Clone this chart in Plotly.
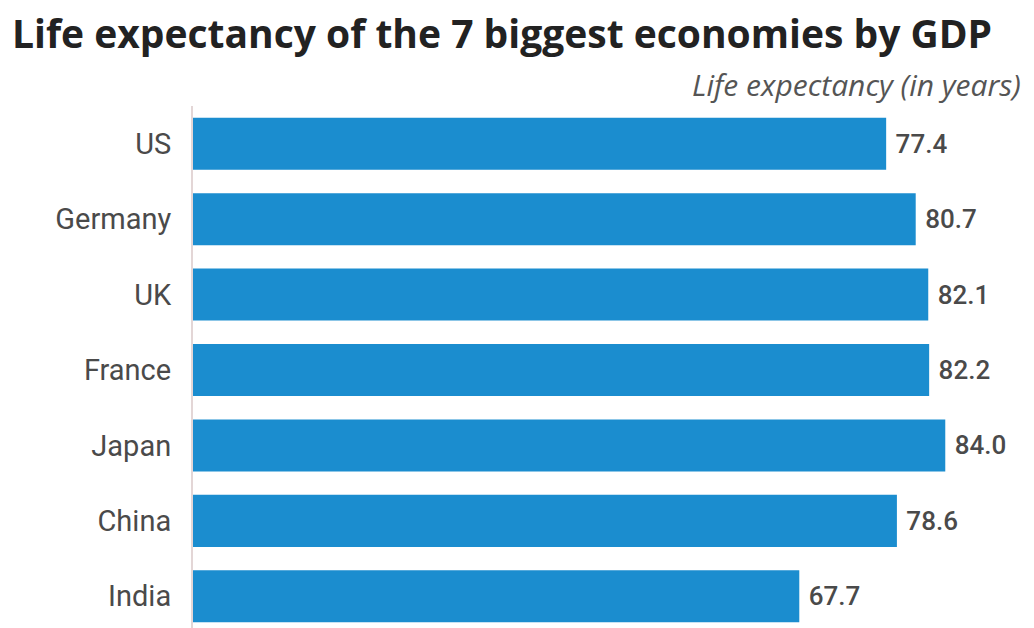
import plotly.graph_objects as go

countries = ["US", "Germany", "UK", "France", "Japan", "China", "India"]
life_expectancy = [77.4, 80.7, 82.1, 82.2, 84.0, 78.6, 67.7]

BAR_BLUE = "#1b8dcf"
TEXT_GREY = "#4a4a4a"

fig = go.Figure(
    go.Bar(
        x=life_expectancy,
        y=countries,
        orientation="h",
        marker=dict(color=BAR_BLUE, line=dict(width=0)),
        text=[f" {v:.1f}" for v in life_expectancy],
        textposition="outside",
        cliponaxis=False,
        textfont=dict(family="Roboto", size=26, color=TEXT_GREY, weight=500),
        hoverinfo="skip",
    )
)

fig.update_layout(
    width=1034,
    height=628,
    margin=dict(l=193, r=35, t=106, b=0),
    paper_bgcolor="white",
    plot_bgcolor="white",
    bargap=0.31,
    showlegend=False,
    title=dict(
        text="<b>Life expectancy of the 7 biggest economies by GDP</b>",
        x=12 / 1034,
        xanchor="left",
        y=1 - 34 / 628,
        yanchor="middle",
        font=dict(family="Open Sans", size=39, color="#222222"),
    ),
    annotations=[
        dict(
            text="<i>Life expectancy (in years)</i>",
            xref="paper",
            yref="paper",
            x=1 + 24 / (1034 - 193 - 35),
            y=1 + 22 / 522,
            xanchor="right",
            yanchor="middle",
            showarrow=False,
            font=dict(family="Open Sans", size=30, color="#555555"),
        )
    ],
    xaxis=dict(
        range=[0, 90],
        visible=False,
        fixedrange=True,
    ),
    yaxis=dict(
        categoryorder="array",
        categoryarray=countries,
        range=[6.42, -0.5],
        showline=True,
        linecolor="#e3d6d6",
        linewidth=2,
        ticks="",
        ticklabelstandoff=14,
        tickfont=dict(family="Roboto", size=29, color=TEXT_GREY),
        showgrid=False,
        zeroline=False,
    ),
)

fig.write_html("out.html")
